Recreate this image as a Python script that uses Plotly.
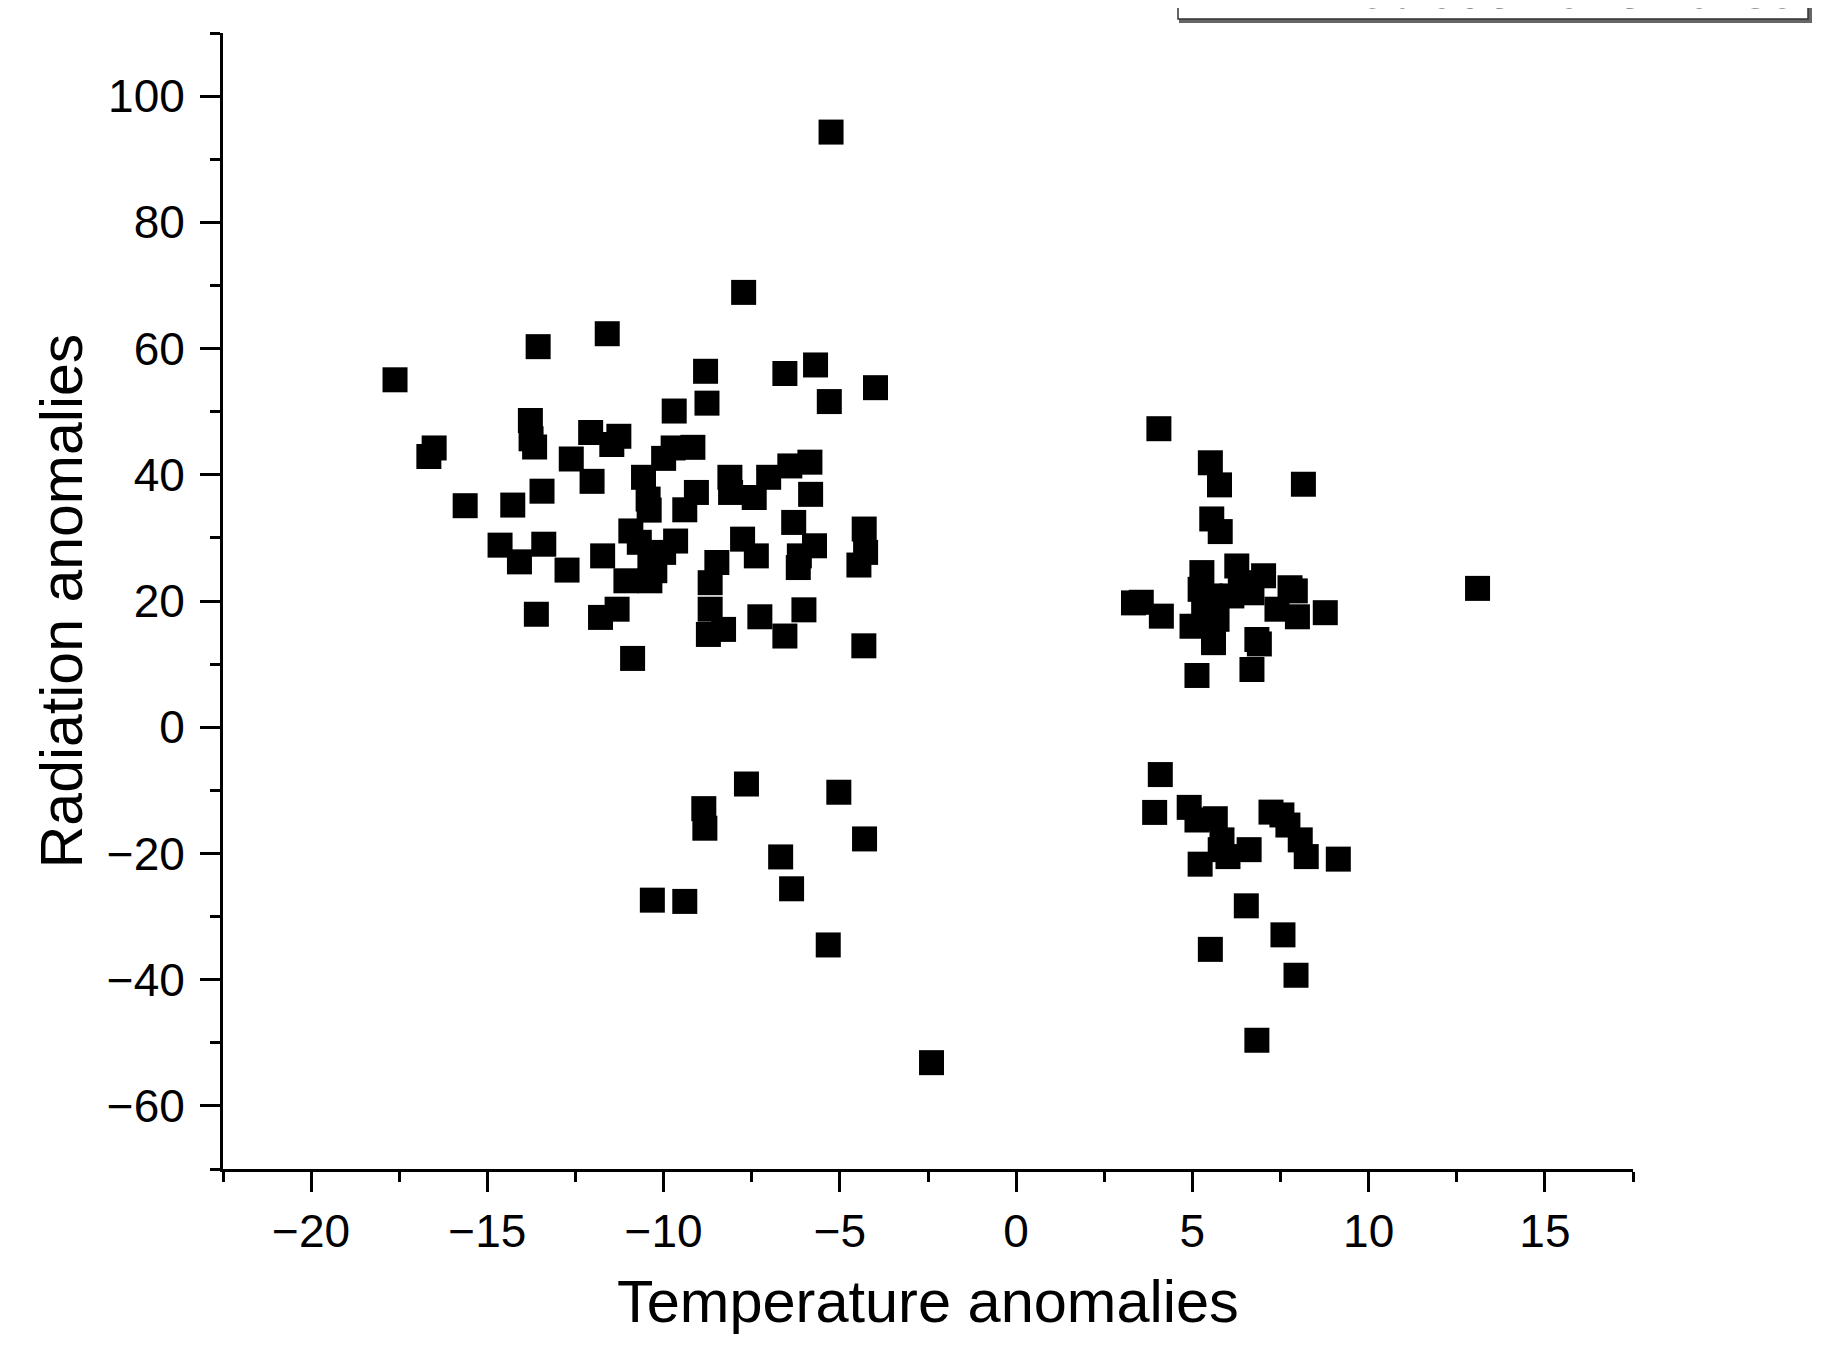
import plotly.graph_objects as go

# Temperature anomalies (x) and radiation anomalies (y)
temp_upper_left = [-17.62, -13.56, -11.60, -7.73, -5.25, -8.81, -6.56, -5.69, -3.99, -8.77,
                   -9.70, -5.30, -13.78, -13.76, -13.66, -16.51, -16.66, -12.07, -11.27, -11.47,
                   -12.62, -12.03, -13.45, -15.63, -14.28, -14.64, -13.40, -14.09, -12.74, -11.73,
                   -13.61, -11.32, -11.79, -10.88, -9.73, -9.17, -10.00, -10.57, -10.44, -10.41,
                   -9.07, -9.40, -8.12, -8.10, -7.43, -7.02, -6.42, -5.85, -5.83, -6.31,
                   -4.31, -4.27, -4.46, -5.72, -6.15, -6.18, -7.76, -7.37, -8.49, -8.68,
                   -8.68, -8.73, -8.30, -7.27, -6.56, -6.02, -4.32, -10.93, -10.69, -9.66,
                   -10.00, -10.39, -11.07, -10.39, -10.25]
rad_upper_left = [55.05, 60.3, 62.35, 68.9, 94.3, 56.4, 56.05, 57.4, 53.8, 51.35,
                  50.1, 51.6, 48.6, 45.7, 44.4, 44.25, 42.9, 46.7, 46.1, 44.8,
                  42.5, 38.96, 37.4, 35.1, 35.2, 28.85, 29.0, 26.2, 24.9, 27.15,
                  17.9, 18.7, 17.4, 10.9, 44.25, 44.35, 42.6, 39.6, 36.15, 34.4,
                  37.2, 34.45, 39.6, 37.2, 36.4, 39.6, 41.4, 42.0, 36.9, 32.45,
                  31.4, 27.7, 25.7, 28.75, 27.15, 25.3, 29.8, 27.15, 26.1, 22.9,
                  18.7, 14.7, 15.5, 17.5, 14.45, 18.6, 12.9, 31.1, 29.3, 29.5,
                  27.7, 26.4, 23.2, 23.2, 24.8]

temp_lower_left = [-7.65, -8.86, -8.83, -5.03, -6.68, -4.30, -6.37, -10.32, -9.40, -5.33, -2.40]
rad_lower_left = [-9.0, -12.9, -16.0, -10.3, -20.55, -17.7, -25.6, -27.4, -27.6, -34.5, -53.15]

temp_upper_right = [4.05, 5.51, 5.77, 8.15, 5.55, 5.79, 13.09, 3.33, 3.55, 4.12,
                    5.27, 5.22, 5.51, 5.32, 5.70, 6.26, 6.36, 7.02, 6.69, 6.12,
                    7.77, 7.92, 7.40, 7.98, 8.77, 4.99, 5.60, 5.60, 6.83, 6.90,
                    5.13, 6.69]
rad_upper_right = [47.3, 41.9, 38.4, 38.5, 33.0, 31.0, 22.0, 19.7, 19.8, 17.6,
                   24.5, 21.85, 20.8, 18.15, 17.1, 25.55, 22.9, 24.0, 21.3, 20.8,
                   22.1, 21.6, 18.7, 17.5, 18.15, 16.0, 15.0, 13.4, 13.9, 13.2,
                   8.2, 9.15]

temp_lower_right = [4.09, 3.93, 4.91, 5.13, 5.65, 5.84, 5.79, 6.01, 6.61, 5.22,
                    7.23, 7.54, 7.71, 8.06, 8.23, 9.14, 6.53, 7.57, 5.51, 7.94, 6.83]
rad_lower_right = [-7.5, -13.5, -12.7, -14.7, -14.5, -17.85, -19.4, -20.5, -19.4, -21.7,
                   -13.45, -13.9, -15.5, -17.85, -20.5, -20.9, -28.3, -32.9, -35.2, -39.3, -49.6]

series_name = "Radiation anomalies"
x_title = "Temperature anomalies"
y_title = "Radiation anomalies"

x_vals = temp_upper_left + temp_lower_left + temp_upper_right + temp_lower_right
y_vals = rad_upper_left + rad_lower_left + rad_upper_right + rad_lower_right

# page offset of the figure inside the HTML body (default 8px body margin)
OFF = 8
W, H = 1837 - 2 * OFF, 1345 - 2 * OFF
L, T = 223 - OFF, 33 - OFF
R = W - (1633 - OFF)
B = H - (1169 - OFF)
PW, PH = W - L - R, H - T - B

def px_x(p):
    """page pixel x -> paper coordinate"""
    return (p - OFF - L) / PW

def px_y(p):
    """page pixel y -> paper coordinate"""
    return (H - B - (p - OFF)) / PH

FONT = "Liberation Sans, Arial, sans-serif"

fig = go.Figure()
fig.add_trace(go.Scatter(
    x=x_vals, y=y_vals, mode="markers", name=series_name, showlegend=False,
    marker=dict(symbol="square", size=25, color="black", line=dict(width=0)),
))

axis_common = dict(
    showgrid=False, zeroline=False, showline=True, linecolor="black", linewidth=3,
    ticks="outside", ticklen=20, tickwidth=3, tickcolor="black",
    tickfont=dict(family=FONT, size=46, color="black"),
    mirror=False,
)

fig.update_xaxes(
    range=[-22.5, 17.5], tick0=0, dtick=5,
    minor=dict(ticks="outside", ticklen=10, tickwidth=3, tickcolor="black", dtick=2.5, tick0=0),
    **axis_common,
)
fig.update_yaxes(
    range=[-70, 110], tick0=0, dtick=20,
    minor=dict(ticks="outside", ticklen=10, tickwidth=3, tickcolor="black", dtick=10, tick0=0),
    title=dict(text=y_title, font=dict(family=FONT, size=59, color="black"), standoff=6),
    ticklabelstandoff=6,
    **axis_common,
)

# x-axis title placed as an annotation (it sits lower than the margin allows for an axis title)
fig.add_annotation(text=x_title, xref="paper", yref="paper",
                   x=0.5, y=px_y(1301), xanchor="center", yanchor="middle",
                   showarrow=False, font=dict(family=FONT, size=59.5, color="black"))

# legend box, cut off at the top edge of the page as in the reference
fig.add_shape(type="rect", xref="paper", yref="paper",
              x0=px_x(1180), x1=px_x(1811), y0=px_y(22), y1=px_y(-60),
              line=dict(color="#666666", width=2), fillcolor="#666666", layer="above")
fig.add_shape(type="rect", xref="paper", yref="paper",
              x0=px_x(1178), x1=px_x(1808), y0=px_y(19), y1=px_y(-60),
              line=dict(color="#333333", width=1.5), fillcolor="white", layer="above")
fig.add_annotation(text=series_name, xref="paper", yref="paper",
                   x=px_x(1322), y=px_y(21.5), xanchor="left", yanchor="bottom",
                   showarrow=False, font=dict(family=FONT, size=52, color="#222222"))

fig.update_layout(
    width=W, height=H,
    margin=dict(l=L, r=R, t=T, b=B, autoexpand=False),
    plot_bgcolor="white", paper_bgcolor="white",
    font=dict(family=FONT, color="black"),
)

fig.write_html("out.html")
